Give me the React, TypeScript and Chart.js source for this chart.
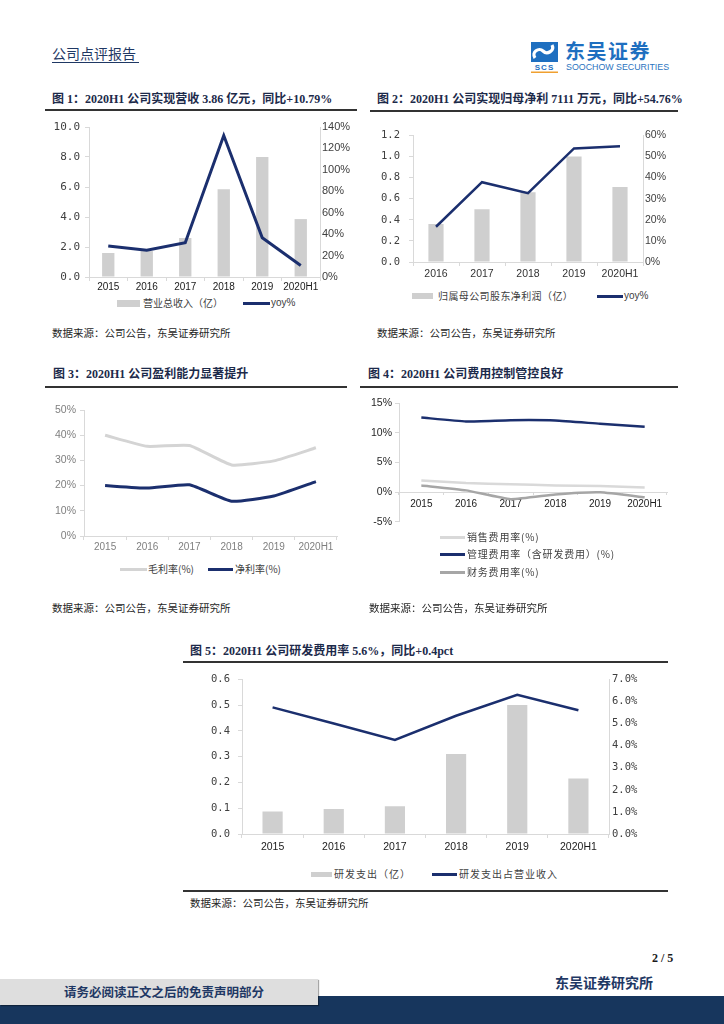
import React, { useEffect, useRef } from "react";
import { Chart, registerables } from "chart.js";

Chart.register(...registerables);

// ---------- data ----------
const years6 = ["2015", "2016", "2017", "2018", "2019", "2020H1"];
const years5 = ["2016", "2017", "2018", "2019", "2020H1"];

// 图1
const revenue = [1.6, 1.73, 2.6, 5.85, 8.0, 3.86];
const revenueYoy = [28.9, 24.9, 32, 132, 36.7, 10.79];
const c1LeftTicks = [0, 2, 4, 6, 8, 10];
const c1RightTicks = [0, 20, 40, 60, 80, 100, 120, 140];

// 图2
const netProfit = [0.36, 0.5, 0.66, 1.0, 0.711];
const netProfitYoy = [16.7, 37.8, 32.6, 53.8, 54.76];
const c2LeftTicks = [0, 0.2, 0.4, 0.6, 0.8, 1.0, 1.2];
const c2RightTicks = [0, 10, 20, 30, 40, 50, 60];

// 图3
const grossMargin = [40, 35.6, 35.9, 28.2, 29.8, 35];
const netMargin = [20, 19, 20.3, 13.8, 15.9, 21.6];
const c3Ticks = [0, 10, 20, 30, 40, 50];

// 图4
const salesRate = [1.94, 1.5, 1.33, 1.1, 1.0, 0.78];
const adminRate = [12.55, 11.9, 12.1, 12.05, 11.5, 11.0];
const financeRate = [1.1, 0.28, -1.2, -0.4, -0.05, -0.9];
const c4Ticks = [-5, 0, 5, 10, 15];

// 图5
const rdSpend = [0.087, 0.097, 0.108, 0.31, 0.5, 0.215];
const rdRate = [5.73, 5.0, 4.26, 5.35, 6.3, 5.6];
const c5LeftTicks = [0, 0.1, 0.2, 0.3, 0.4, 0.5, 0.6];
const c5RightTicks = [0, 1, 2, 3, 4, 5, 6, 7];

// labels
const c1Legend = ["营业总收入（亿）", "yoy%"];
const c2Legend = ["归属母公司股东净利润（亿）", "yoy%"];
const c3Legend = ["毛利率(%)", "净利率(%)"];
const c4Legend = ["销售费用率(%)", "管理费用率（含研发费用）(%)", "财务费用率(%)"];
const c5Legend = ["研发支出（亿）", "研发支出占营业收入"];

// ---------- styles ----------
const NAVY = "#1b2f6e";
const BAR_GRAY = "#cfcfcf";
const LIGHT_LINE = "#d4d4d4";
const MID_LINE = "#a6a6a6";
const AXIS = "#d9d9d9";
const SANS = '"Liberation Sans", Arial, sans-serif';
const MONO = '"DejaVu Sans Mono", monospace';
const CJK = '"Noto Sans CJK SC", sans-serif';
const TITLE = '"Liberation Serif", "Noto Sans CJK SC", serif';
const TEXT_NAVY = "#1f3864";
const TITLE_COLOR = "#1c2a4a";

function ticksFrom(values: number[]) {
  return (axis: any) => {
    axis.ticks = values.map((v) => ({ value: v }));
  };
}

function xAxis(o: any) {
  const cfg: any = {
    offset: true,
    grid: {
      drawOnChartArea: false,
      drawTicks: o.tickLength > 0,
      tickLength: o.tickLength,
      color: AXIS,
      offset: true,
    },
    border: { color: AXIS, width: 1 },
    ticks: {
      font: o.font,
      color: o.color,
      padding: o.padding,
      maxRotation: 0,
      autoSkip: false,
    },
    afterFit: (s: any) => {
      s.height = o.height;
    },
  };
  if (o.position) cfg.position = o.position;
  return cfg;
}

function yAxis(o: any) {
  return {
    position: o.side,
    min: o.min,
    max: o.max,
    afterBuildTicks: ticksFrom(o.ticks),
    grid: {
      drawOnChartArea: false,
      drawTicks: o.tickLength > 0,
      tickLength: o.tickLength,
      color: AXIS,
    },
    border: { color: AXIS, width: 1 },
    ticks: { font: o.font, color: o.color, padding: o.padding, callback: o.format },
    afterFit: (s: any) => {
      s.width = o.width;
    },
  };
}

function baseOptions(padding: any, scales: any) {
  return {
    responsive: false,
    animation: false,
    layout: { padding },
    plugins: { legend: { display: false }, tooltip: { enabled: false } },
    scales,
  };
}

function ChartCanvas({ left, top, width, height, config }: any) {
  const ref = useRef<HTMLCanvasElement>(null);
  useEffect(() => {
    const chart = new Chart(ref.current as HTMLCanvasElement, config);
    return () => chart.destroy();
  }, []);
  return (
    <canvas
      ref={ref}
      width={width}
      height={height}
      style={{ position: "absolute", left, top, width, height }}
    />
  );
}

function Txt({ left, cy, size, children, style }: any) {
  return (
    <div
      style={{
        position: "absolute",
        left,
        top: cy - size / 2 - 1,
        fontSize: size,
        lineHeight: `${size + 2}px`,
        whiteSpace: "nowrap",
        ...style,
      }}
    >
      {children}
    </div>
  );
}

function Rule({ left, top, width, h = 1, color = "#262626" }: any) {
  return (
    <div style={{ position: "absolute", left, top, width, height: h, background: color }} />
  );
}

function Box({ left, top, width, height, color }: any) {
  return <div style={{ position: "absolute", left, top, width, height, background: color }} />;
}

const titleStyle = { fontFamily: TITLE, fontWeight: "bold", color: TITLE_COLOR };
const srcStyle = { fontFamily: CJK, color: "#262626" };
const legStyle = { fontFamily: CJK, color: "#404040" };

const pct0 = (v: any) => `${v}%`;

// ---------- chart configs ----------
const config1: any = {
  type: "bar",
  data: {
    labels: years6,
    datasets: [
      {
        type: "line",
        label: c1Legend[1],
        data: revenueYoy,
        yAxisID: "y1",
        borderColor: NAVY,
        borderWidth: 3,
        pointRadius: 0,
        tension: 0,
        order: 0,
      },
      {
        type: "bar",
        label: c1Legend[0],
        data: revenue,
        yAxisID: "y",
        backgroundColor: BAR_GRAY,
        barPercentage: 0.32,
        categoryPercentage: 1,
        order: 1,
      },
    ],
  },
  options: baseOptions(
    { top: 12, left: 0, right: 0, bottom: 0 },
    {
      x: xAxis({ tickLength: 4, padding: 0, height: 18, font: { family: SANS, size: 10 }, color: "#1a1a1a" }),
      y: yAxis({
        side: "left", min: 0, max: 10, ticks: c1LeftTicks, tickLength: 4, padding: 5, width: 49,
        font: { family: MONO, size: 11 }, color: "#404040", format: (v: any) => Number(v).toFixed(1),
      }),
      y1: yAxis({
        side: "right", min: 0, max: 140, ticks: c1RightTicks, tickLength: 0, padding: 2, width: 40,
        font: { family: SANS, size: 11 }, color: "#404040", format: pct0,
      }),
    }
  ),
};

const config2: any = {
  type: "bar",
  data: {
    labels: years5,
    datasets: [
      {
        type: "line",
        label: c2Legend[1],
        data: netProfitYoy,
        yAxisID: "y1",
        borderColor: NAVY,
        borderWidth: 2.5,
        pointRadius: 0,
        tension: 0,
        order: 0,
      },
      {
        type: "bar",
        label: c2Legend[0],
        data: netProfit,
        yAxisID: "y",
        backgroundColor: BAR_GRAY,
        barPercentage: 0.33,
        categoryPercentage: 1,
        order: 1,
      },
    ],
  },
  options: baseOptions(
    { top: 13, left: 0, right: 0, bottom: 0 },
    {
      x: xAxis({ tickLength: 4, padding: 2, height: 18, font: { family: SANS, size: 10.5 }, color: "#333333" }),
      y: yAxis({
        side: "left", min: 0, max: 1.2, ticks: c2LeftTicks, tickLength: 4, padding: 9, width: 53,
        font: { family: MONO, size: 10.5 }, color: "#404040", format: (v: any) => Number(v).toFixed(1),
      }),
      y1: yAxis({
        side: "right", min: 0, max: 60, ticks: c2RightTicks, tickLength: 0, padding: 2, width: 37,
        font: { family: SANS, size: 10.5 }, color: "#404040", format: pct0,
      }),
    }
  ),
};

const config3: any = {
  type: "line",
  data: {
    labels: years6,
    datasets: [
      {
        label: c3Legend[0],
        data: grossMargin,
        borderColor: LIGHT_LINE,
        borderWidth: 3,
        pointRadius: 0,
        tension: 0.15,
      },
      {
        label: c3Legend[1],
        data: netMargin,
        borderColor: NAVY,
        borderWidth: 3,
        pointRadius: 0,
        tension: 0.15,
      },
    ],
  },
  options: baseOptions(
    { top: 12, left: 0, right: 13, bottom: 0 },
    {
      x: xAxis({ tickLength: 4, padding: 1, height: 22, font: { family: SANS, size: 10 }, color: "#7f7f7f" }),
      y: yAxis({
        side: "left", min: 0, max: 50, ticks: c3Ticks, tickLength: 4, padding: 4, width: 44,
        font: { family: SANS, size: 10.5 }, color: "#7f7f7f", format: pct0,
      }),
    }
  ),
};

const config4: any = {
  type: "line",
  data: {
    labels: years6,
    datasets: [
      {
        label: c4Legend[0],
        data: salesRate,
        borderColor: "#d9d9d9",
        borderWidth: 2.5,
        pointRadius: 0,
        tension: 0.15,
      },
      {
        label: c4Legend[1],
        data: adminRate,
        borderColor: NAVY,
        borderWidth: 2.5,
        pointRadius: 0,
        tension: 0.15,
      },
      {
        label: c4Legend[2],
        data: financeRate,
        borderColor: MID_LINE,
        borderWidth: 2.5,
        pointRadius: 0,
        tension: 0.15,
      },
    ],
  },
  options: baseOptions(
    { top: 12, left: 0, right: 13, bottom: 7 },
    {
      x: xAxis({
        tickLength: 2, padding: 4, height: 0, position: { y: 0 },
        font: { family: SANS, size: 10 }, color: "#1a1a1a",
      }),
      y: yAxis({
        side: "left", min: -5, max: 15, ticks: c4Ticks, tickLength: 4, padding: 3, width: 39,
        font: { family: SANS, size: 10.5 }, color: "#262626", format: pct0,
      }),
    }
  ),
};

const config5: any = {
  type: "bar",
  data: {
    labels: years6,
    datasets: [
      {
        type: "line",
        label: c5Legend[1],
        data: rdRate,
        yAxisID: "y1",
        borderColor: NAVY,
        borderWidth: 2.5,
        pointRadius: 0,
        tension: 0,
        order: 0,
      },
      {
        type: "bar",
        label: c5Legend[0],
        data: rdSpend,
        yAxisID: "y",
        backgroundColor: BAR_GRAY,
        barPercentage: 0.33,
        categoryPercentage: 1,
        order: 1,
      },
    ],
  },
  options: baseOptions(
    { top: 13, left: 0, right: 0, bottom: 0 },
    {
      x: xAxis({
        tickLength: 4, padding: 3, height: 26,
        font: { family: SANS, size: 10.5 }, color: "#1a1a1a",
      }),
      y: yAxis({
        side: "left", min: 0, max: 0.6, ticks: c5LeftTicks, tickLength: 4, padding: 8, width: 62,
        font: { family: MONO, size: 10.5 }, color: "#404040", format: (v: any) => Number(v).toFixed(1),
      }),
      y1: yAxis({
        side: "right", min: 0, max: 7, ticks: c5RightTicks, tickLength: 0, padding: 3, width: 71,
        font: { family: MONO, size: 10.5 }, color: "#404040", format: (v: any) => `${Number(v).toFixed(1)}%`,
      }),
    }
  ),
};

function Logo() {
  return (
    <>
      <svg
        width={30}
        height={32}
        viewBox="0 0 30 32"
        style={{ position: "absolute", left: 530, top: 41 }}
      >
        <rect x={1} y={1} width={27} height={20} fill="#1e6fc0" />
        <path
          d="M 5 17 C 1 11, 9 6, 13 10 C 17 14, 25 10, 22 4"
          stroke="#ffffff"
          strokeWidth={3.2}
          fill="none"
        />
        <text
          x={14.5}
          y={29}
          fontSize={8}
          fontWeight="bold"
          fill="#1e6fc0"
          textAnchor="middle"
          fontFamily={SANS}
          letterSpacing={1}
        >
          SCS
        </text>
        <rect x={1} y={30.5} width={27} height={1.5} fill="#f0a030" />
      </svg>
      <div
        style={{
          position: "absolute",
          left: 565,
          top: 40,
          fontFamily: CJK,
          fontWeight: "bold",
          fontSize: 20,
          lineHeight: "22px",
          color: "#1e6fc0",
          letterSpacing: 1.5,
          whiteSpace: "nowrap",
        }}
      >
        东吴证券
      </div>
      <div
        style={{
          position: "absolute",
          left: 566,
          top: 62,
          fontFamily: SANS,
          fontSize: 9.5,
          lineHeight: "10px",
          color: "#2b73c0",
          whiteSpace: "nowrap",
          transform: "scaleX(0.93)",
          transformOrigin: "left top",
        }}
      >
        SOOCHOW SECURITIES
      </div>
    </>
  );
}

export default function App() {
  return (
    <div
      style={{
        position: "absolute",
        left: 0,
        top: 0,
        width: 724,
        height: 1024,
        background: "#ffffff",
        overflow: "hidden",
      }}
    >
      {/* header */}
      <Txt left={52} cy={53} size={14} style={{ fontFamily: CJK, color: TEXT_NAVY }}>
        公司点评报告
      </Txt>
      <Rule left={52} top={62} width={87} h={1} color={TEXT_NAVY} />
      <Logo />

      {/* 图1 */}
      <Txt left={52} cy={99} size={12} style={titleStyle}>
        图 1：2020H1 公司实现营收 3.86 亿元，同比+10.79%
      </Txt>
      <Rule left={45} top={108.5} width={312} h={2} color="#333333" />
      <ChartCanvas left={40} top={115} width={320} height={180} config={config1} />
      <Box left={117} top={300} width={23} height={7} color={BAR_GRAY} />
      <Txt left={143} cy={303} size={10} style={legStyle}>{c1Legend[0]}</Txt>
      <Box left={243} top={301.5} width={27} height={3} color={NAVY} />
      <Txt left={271} cy={303} size={10} style={{ ...legStyle, fontFamily: SANS }}>{c1Legend[1]}</Txt>
      <Txt left={52} cy={333} size={10.5} style={srcStyle}>数据来源：公司公告，东吴证券研究所</Txt>

      {/* 图2 */}
      <Txt left={377} cy={99} size={12} style={titleStyle}>
        图 2：2020H1 公司实现归母净利 7111 万元，同比+54.76%
      </Txt>
      <Rule left={370} top={109.5} width={308} h={2} color="#333333" />
      <ChartCanvas left={360} top={120} width={320} height={160} config={config2} />
      <Box left={412} top={293} width={21} height={6} color={BAR_GRAY} />
      <Txt left={438} cy={296} size={10} style={{ ...legStyle, letterSpacing: 0.4 }}>{c2Legend[0]}</Txt>
      <Box left={597} top={294.5} width={26} height={3} color={NAVY} />
      <Txt left={624} cy={296} size={10} style={{ ...legStyle, fontFamily: SANS }}>{c2Legend[1]}</Txt>
      <Txt left={377} cy={333} size={10.5} style={srcStyle}>数据来源：公司公告，东吴证券研究所</Txt>

      {/* 图3 */}
      <Txt left={53} cy={374} size={12} style={titleStyle}>
        图 3：2020H1 公司盈利能力显著提升
      </Txt>
      <Rule left={45} top={385.5} width={302} h={2} color="#333333" />
      <ChartCanvas left={40} top={398} width={310} height={160} config={config3} />
      <Box left={120} top={567.5} width={27} height={3} color={LIGHT_LINE} />
      <Txt left={148} cy={569} size={10} style={legStyle}>{c3Legend[0]}</Txt>
      <Box left={208} top={567.5} width={25} height={3} color={NAVY} />
      <Txt left={235} cy={569} size={10} style={legStyle}>{c3Legend[1]}</Txt>
      <Txt left={52} cy={608} size={10.5} style={srcStyle}>数据来源：公司公告，东吴证券研究所</Txt>

      {/* 图4 */}
      <Txt left={368} cy={374} size={12} style={titleStyle}>
        图 4：2020H1 公司费用控制管控良好
      </Txt>
      <Rule left={360} top={385.5} width={318} h={2} color="#333333" />
      <ChartCanvas left={360} top={391} width={320} height={140} config={config4} />
      <Box left={440} top={535.5} width={25} height={3} color="#d9d9d9" />
      <Txt left={467} cy={537} size={10} style={{ ...legStyle, letterSpacing: 0.8 }}>{c4Legend[0]}</Txt>
      <Box left={440} top={553} width={25} height={3} color={NAVY} />
      <Txt left={467} cy={554} size={10} style={{ ...legStyle, letterSpacing: 0.8 }}>{c4Legend[1]}</Txt>
      <Box left={440} top={570.5} width={25} height={3} color={MID_LINE} />
      <Txt left={467} cy={572} size={10} style={{ ...legStyle, letterSpacing: 0.8 }}>{c4Legend[2]}</Txt>
      <Txt left={369} cy={608} size={10.5} style={srcStyle}>数据来源：公司公告，东吴证券研究所</Txt>

      {/* 图5 */}
      <Txt left={190} cy={651} size={12} style={titleStyle}>
        图 5：2020H1 公司研发费用率 5.6%，同比+0.4pct
      </Txt>
      <Rule left={183} top={660.5} width={485} h={2} color="#333333" />
      <ChartCanvas left={180} top={665} width={500} height={195} config={config5} />
      <Box left={311} top={872} width={21} height={5} color={BAR_GRAY} />
      <Txt left={334} cy={874} size={10} style={{ ...legStyle, letterSpacing: 1 }}>{c5Legend[0]}</Txt>
      <Box left={432} top={873} width={25} height={3} color={NAVY} />
      <Txt left={459} cy={874} size={10} style={{ ...legStyle, letterSpacing: 1 }}>{c5Legend[1]}</Txt>
      <Rule left={183} top={889.5} width={485} h={2} color="#333333" />
      <Txt left={190} cy={903} size={10.5} style={srcStyle}>数据来源：公司公告，东吴证券研究所</Txt>

      {/* footer */}
      <Txt left={652} cy={958} size={12} style={{ fontFamily: TITLE, fontWeight: "bold", color: "#1a1a1a" }}>
        2 / 5
      </Txt>
      <Box left={318} top={996} width={406} height={28} color="#17365d" />
      <Box left={0} top={1005} width={724} height={19} color="#17365d" />
      <div
        style={{
          position: "absolute",
          left: 0,
          top: 979,
          width: 318,
          height: 26,
          background: "#dedede",
          boxShadow: "1px 1px 1px rgba(0,0,0,0.35)",
        }}
      />
      <Txt left={64} cy={992} size={12.5} style={{ fontFamily: CJK, fontWeight: "bold", color: TEXT_NAVY }}>
        请务必阅读正文之后的免责声明部分
      </Txt>
      <Txt left={555} cy={982} size={14} style={{ fontFamily: CJK, fontWeight: "bold", color: TEXT_NAVY }}>
        东吴证券研究所
      </Txt>
    </div>
  );
}
